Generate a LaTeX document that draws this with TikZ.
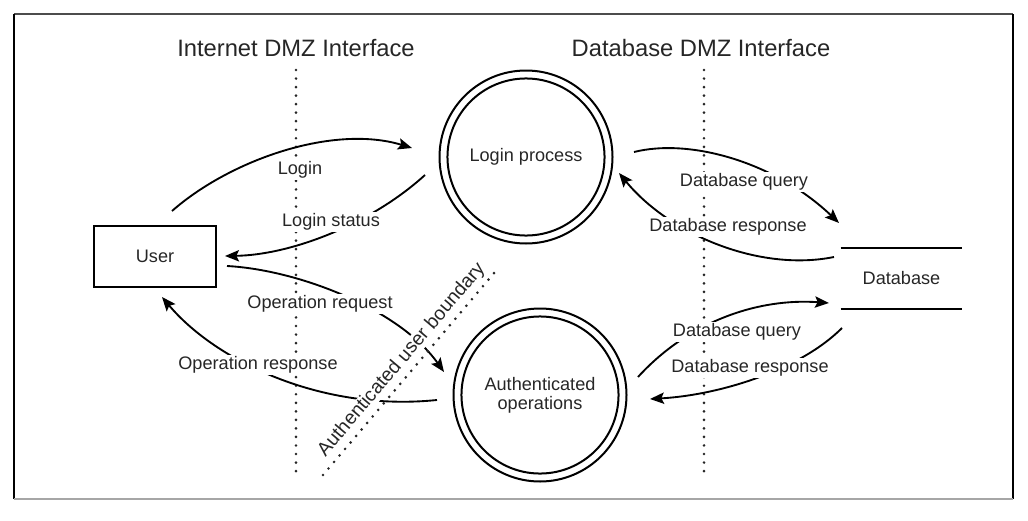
\documentclass[tikz,border=0pt]{standalone}
\usepackage{fontspec}
\setmainfont{Liberation Sans}
\usetikzlibrary{arrows.meta}
\begin{document}
\begin{tikzpicture}[x=0.75pt,y=-0.75pt,
  lbl/.style={font=\fontsize{13.6pt}{16pt}\selectfont, text=black!85, fill=white, inner sep=1.2pt, text height=10pt, text depth=3pt},
  titlelbl/.style={font=\fontsize{17.8pt}{21pt}\selectfont, text=black!85},
  flow/.style={line width=1.4pt, -{Stealth[length=10.5pt,width=8.5pt,inset=2pt]}},
  proc/.style={circle, draw, line width=1.5pt, minimum size=129.75pt, inner sep=0pt, font=\fontsize{13.6pt}{16pt}\selectfont, text=black!85, align=center},
  dmz/.style={line width=2.2pt, dash pattern=on 0pt off 6.4pt, line cap=round, black!85},
  edge/.style={line width=1.5pt}
]
\useasboundingbox (0,0) rectangle (1028,521);
% frame
\draw[line width=1.8pt, black!70] (14,14) -- (1013,14);
\draw[line width=1.5pt, black] (14,14) -- (14,499);
\draw[line width=1.5pt, black] (1013,14) -- (1013,499);
\draw[line width=1.2pt, black!35] (14,499) -- (1013,499);

% DMZ lines
\coordinate (it) at (296,70); \coordinate (ib) at (296,478);
\coordinate (dt) at (704,70); \coordinate (db2) at (704,478);
\draw[dmz] (it) -- (ib);
\draw[dmz] (dt) -- (db2);
\node[titlelbl] (ititle) at (296,48) {Internet DMZ Interface};
\node[titlelbl] (dtitle) at (701,48) {Database DMZ Interface};

% nodes
\node[draw, edge, minimum width=91.5pt, minimum height=45.75pt, font=\fontsize{13.6pt}{16pt}\selectfont, text=black!85] (user) at (155,256) {User};
\node[proc] (login) at (526,157) {Login process};
\draw[edge] (login.center) circle[radius=58.9pt];
\node[proc] (auth) at (540,395) {Authenticated\\[-2pt]operations};
\draw[edge] (auth.center) circle[radius=58.9pt];
\node[minimum width=90.75pt, minimum height=45.75pt, inner sep=0pt, font=\fontsize{13.6pt}{16pt}\selectfont, text=black!85] (db) at (901.5,278.5) {Database};
\draw[edge] (db.north west) -- (db.north east);
\draw[edge] (db.south west) -- (db.south east);

% connector end points
\coordinate (a1) at (172,211); \coordinate (a2) at (412,148);
\coordinate (b1) at (425,175); \coordinate (b2) at (225,256);
\coordinate (c1) at (227,266); \coordinate (c2) at (444,372);
\coordinate (d1) at (437,400); \coordinate (d2) at (162,297);
\coordinate (e1) at (634,152); \coordinate (e2) at (839,223);
\coordinate (f1) at (834,257); \coordinate (f2) at (619,173);
\coordinate (g1) at (638,377); \coordinate (g2) at (829,303);
\coordinate (h1) at (842,328); \coordinate (h2) at (650,399);

\draw[flow] (a1) .. controls (230,160) and (333,124) .. (a2);
\draw[flow] (b1) .. controls (370,225) and (290,255) .. (b2);
\draw[flow] (c1) .. controls (300,270) and (400,310) .. (c2);
\draw[flow] (d1) .. controls (320,412) and (215,360) .. (d2);
\draw[flow] (e1) .. controls (690,138) and (775,162) .. (e2);
\draw[flow] (f1) .. controls (760,272) and (670,235) .. (f2);
\draw[flow] (g1) .. controls (690,320) and (760,298) .. (g2);
\draw[flow] (h1) .. controls (800,370) and (720,395) .. (h2);

% labels
\node[lbl] (llogin) at (300,170) {Login};
\node[lbl] (lstatus) at (331,222) {Login status};
\node[lbl] (lopreq) at (320,304) {Operation request};
\node[lbl] (lopres) at (258,365) {Operation response};
\node[lbl] (ldbq1) at (744,182) {Database query};
\node[lbl] (ldbr1) at (728,227) {Database response};
\node[lbl] (ldbq2) at (737,332) {Database query};
\node[lbl] (ldbr2) at (750,368) {Database response};

% authenticated user boundary
\node[lbl, font=\fontsize{14.5pt}{17pt}\selectfont, rotate=49.7, inner sep=0.5pt] (lbound) at (402,360) {Authenticated user boundary};
\coordinate (ab1) at (323,475); \coordinate (ab2) at (495,272);
\draw[dmz] (ab1) -- (ab2);
\end{tikzpicture}
\end{document}
